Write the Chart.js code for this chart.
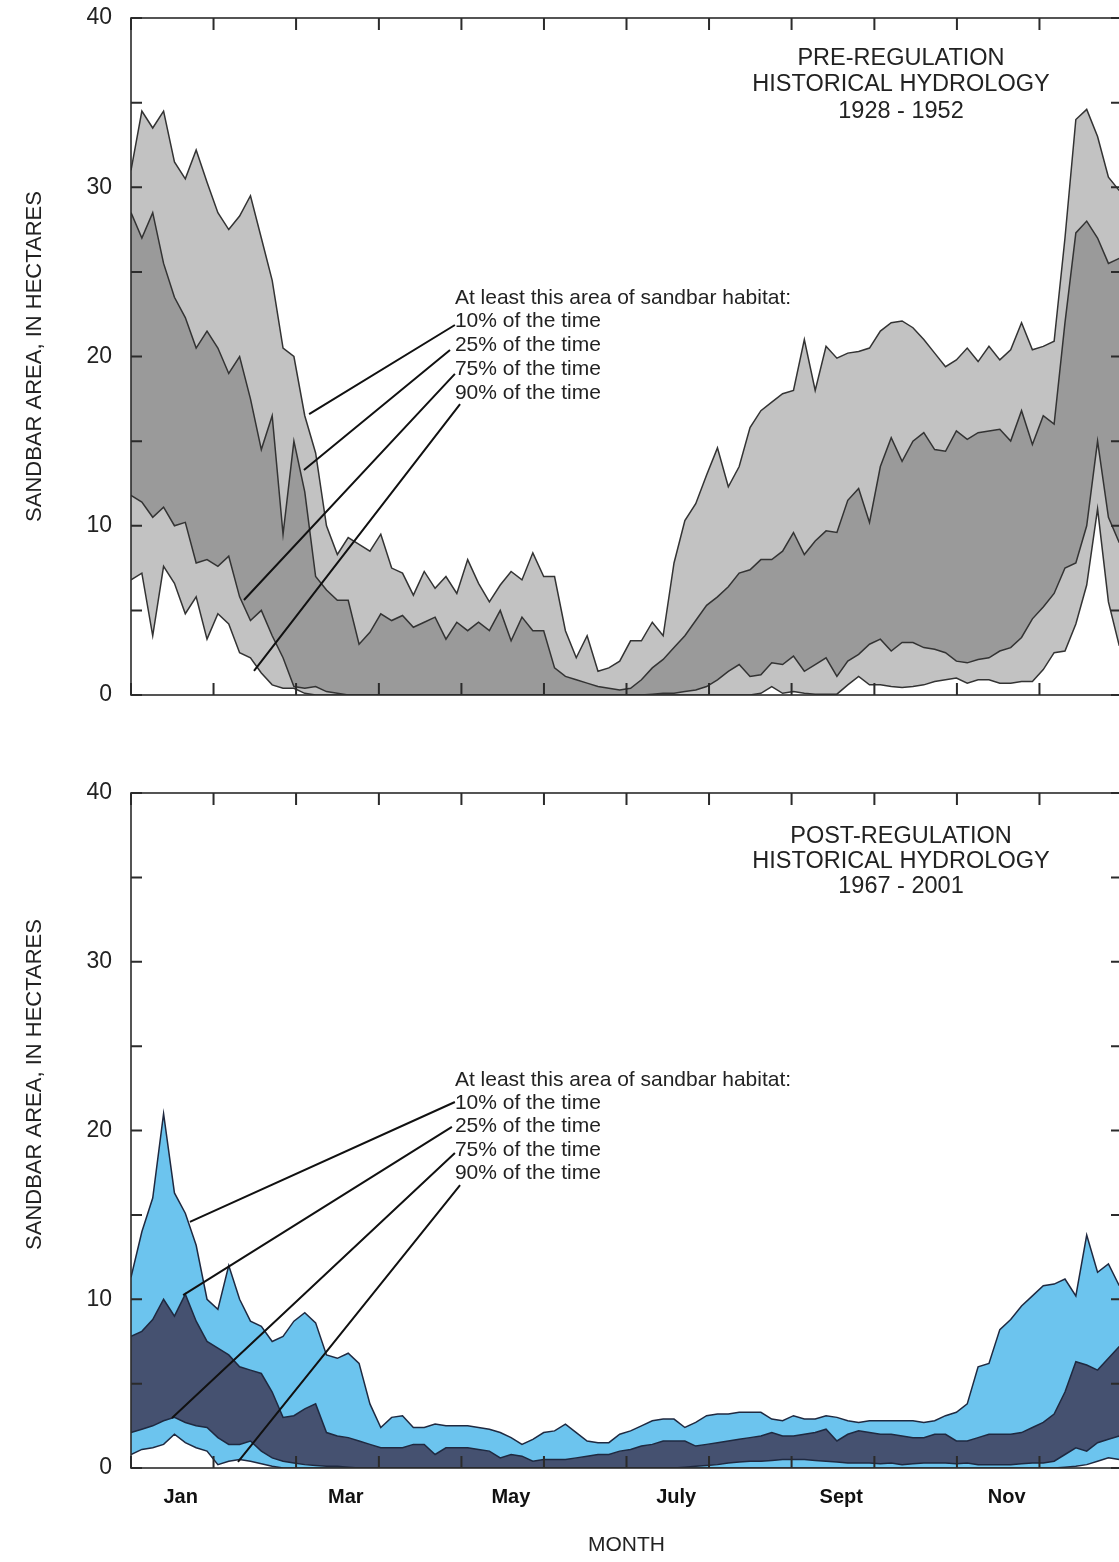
<!DOCTYPE html>
<html lang="en">
<head>
<meta charset="utf-8">
<title>Sandbar area</title>
<script src="https://cdn.jsdelivr.net/npm/chart.js@4.4.1/dist/chart.umd.min.js"></script>
<style>
    html, body { margin: 0; padding: 0; background: #fff; overflow: hidden; }
    canvas { position: absolute; left: 0; }
    #graficoAntes { top: 0; }
    #graficoDespues { top: 760px; }
</style>
</head>
<body>
<canvas id="graficoAntes" width="1140" height="740" style="width:1140px;height:740px"></canvas>
<canvas id="graficoDespues" width="1140" height="802" style="width:1140px;height:802px"></canvas>
<script>
// ===================================== Datos (dia del año, hectareas) ==================
const dias = [0,4,8,12,16,20,24,28,32,36,40,44,48,52,56,60,64,68,72,76,80,84,88,92,96,100,104,108,112,116,
    120,124,128,132,136,140,144,148,152,156,160,164,168,172,176,180,184,188,192,196,200,204,208,212,216,220,224,228,232,236,
    240,244,248,252,256,260,264,268,272,276,280,284,288,292,296,300,304,308,312,316,320,324,328,332,336,340,344,348,352,356,
    360,364];

// Pre-regulacion 1928 - 1952
const antes10 = [31.0,34.5,33.5,34.5,31.5,30.5,32.2,30.3,28.5,27.5, 28.3,29.5,27.0,24.5,20.5,20.0,16.5,14.3,10.0,8.3,
    9.3,8.9,8.5,9.5,7.5,7.2,5.9,7.3,6.3,7.0, 6.0,8.0,6.6,5.5,6.5,7.3,6.8,8.4,7.0,7.0,
    3.8,2.2,3.5,1.4,1.6,2.0,3.2,3.2,4.3,3.5, 7.8,10.3,11.3,13.0,14.6,12.3,13.5,15.8,16.8,17.3,
    17.8,18.0,21.0,18.0,20.6,19.9,20.2,20.3,20.5,21.5, 22.0,22.1,21.7,21.0,20.2,19.4,19.8,20.5,19.7,20.6,
    19.8,20.4,22.0,20.4,20.6,20.9,27.0,34.0,34.6,33.0, 30.6,29.8];
const antes25 = [28.5,27.0,28.5,25.5,23.5,22.3,20.5,21.5,20.5,19.0, 20.0,17.5,14.5,16.5,9.5,15.0,12.0,7.0,6.2,5.6,
    5.6,3.0,3.7,4.8,4.4,4.7,4.0,4.3,4.6,3.3, 4.3,3.8,4.3,3.8,5.0,3.2,4.6,3.8,3.8,1.6,
    1.1,0.9,0.7,0.5,0.4,0.3,0.4,0.9,1.6,2.1, 2.8,3.5,4.4,5.3,5.8,6.4,7.2,7.4,8.0,8.0,
    8.5,9.6,8.3,9.1,9.7,9.6,11.5,12.2,10.2,13.5, 15.2,13.8,15.0,15.5,14.5,14.4,15.6,15.1,15.5,15.6,
    15.7,15.0,16.8,14.8,16.5,16.0,22.0,27.3,28.0,27.0, 25.5,25.8];
const antes75 = [11.8,11.4,10.5,11.1,10.0,10.2,7.8,8.0,7.6,8.2, 5.8,4.4,5.0,3.5,2.2,0.5,0.4,0.5,0.2,0.1,
    0,0,0,0,0,0,0,0,0,0, 0,0,0,0,0,0,0,0,0,0,
    0,0,0,0,0,0,0,0,0.05,0.1, 0.1,0.2,0.3,0.5,0.9,1.4,1.8,1.1,1.2,1.9,
    1.8,2.3,1.4,1.8,2.2,1.1,2.0,2.4,3.0,3.3, 2.6,3.1,3.1,2.8,2.7,2.5,2.0,1.9,2.1,2.2,
    2.6,2.8,3.4,4.5,5.2,6.0,7.5,7.8,10.0,15.0, 10.5,9.0];
const antes90 = [6.8,7.2,3.5,7.6,6.6,4.8,5.8,3.3,4.8,4.2, 2.5,2.2,1.3,0.6,0.4,0.4,0.1,0,0,0,
    0,0,0,0,0,0,0,0,0,0, 0,0,0,0,0,0,0,0,0,0,
    0,0,0,0,0,0,0,0,0,0, 0,0,0,0,0,0,0,0,0.1,0.5,
    0.1,0.2,0.1,0.05,0.05,0.05,0.6,1.1,0.6,0.6, 0.5,0.45,0.5,0.6,0.8,0.9,1.0,0.7,0.9,0.9,
    0.7,0.7,0.8,0.8,1.5,2.5,2.6,4.2,6.5,11.0, 5.5,2.9];

// Post-regulacion 1967 - 2001
const despues10 = [11.3,14.0,16.0,21.0,16.3,15.1,13.2,10.0,9.4,12.0, 10.0,8.7,8.4,7.5,7.8,8.7,9.2,8.6,6.7,6.5,
    6.8,6.2,3.8,2.4,3.0,3.1,2.4,2.4,2.6,2.5, 2.5,2.5,2.4,2.3,2.1,1.8,1.4,1.7,2.1,2.2,
    2.6,2.1,1.6,1.5,1.5,2.0,2.2,2.5,2.8,2.9, 2.9,2.4,2.7,3.1,3.2,3.2,3.3,3.3,3.3,2.9,
    2.8,3.1,2.9,2.9,3.1,3.0,2.8,2.7,2.8,2.8, 2.8,2.8,2.8,2.7,2.8,3.1,3.3,3.8,6.0,6.2,
    8.2,8.8,9.6,10.2,10.8,10.9,11.2,10.2,13.8,11.6, 12.1,10.8];
const despues25 = [7.8,8.1,8.8,10.0,9.0,10.3,8.7,7.5,7.1,6.7, 6.0,5.8,5.6,4.5,3.0,3.1,3.5,3.8,2.1,1.9,
    1.8,1.6,1.4,1.2,1.2,1.2,1.4,1.4,0.8,1.2, 1.2,1.2,1.1,1.0,0.6,0.8,0.7,0.4,0.5,0.5,
    0.5,0.6,0.7,0.8,0.8,1.0,1.1,1.3,1.4,1.6, 1.6,1.6,1.3,1.4,1.5,1.6,1.7,1.8,1.9,2.1,
    1.9,1.9,2.0,2.1,2.3,1.6,2.0,2.2,2.1,2.0, 2.0,1.9,1.8,1.8,2.0,2.0,1.6,1.6,1.8,2.0,
    2.0,2.0,2.1,2.4,2.7,3.2,4.5,6.3,6.1,5.8, 6.5,7.2];
const despues75 = [2.1,2.3,2.5,2.8,3.0,2.7,2.5,2.4,1.8,1.4, 1.4,1.6,1.0,0.6,0.4,0.3,0.2,0.15,0.1,0.1,
    0.05,0,0,0,0,0,0,0,0,0, 0,0,0,0,0,0,0,0,0,0,
    0,0,0,0,0,0,0,0,0,0, 0,0.05,0.1,0.15,0.2,0.3,0.35,0.4,0.4,0.45,
    0.5,0.5,0.5,0.45,0.4,0.35,0.3,0.3,0.3,0.25, 0.3,0.2,0.25,0.3,0.3,0.3,0.25,0.3,0.2,0.2,
    0.2,0.2,0.25,0.3,0.3,0.4,0.8,1.2,1.0,1.5, 1.7,1.9];
const despues90 = [0.8,1.1,1.2,1.4,2.0,1.5,1.2,1.0,0.2,0.4, 0.5,0.4,0.25,0.1,0,0,0,0,0,0,
    0,0,0,0,0,0,0,0,0,0, 0,0,0,0,0,0,0,0,0,0,
    0,0,0,0,0,0,0,0,0,0, 0,0,0,0,0,0,0,0,0,0,
    0,0,0,0,0,0,0,0,0,0, 0,0,0,0,0,0,0,0,0,0,
    0,0,0,0,0,0,0.05,0.1,0.2,0.4, 0.6,0.5];

// Marcas de inicio de mes y etiquetas (en dias)
const iniciosMes = [0,30.4,60.8,91.3,121.7,152.1,182.5,212.9,243.3,273.8,304.2,334.6,365];
const etiquetasMes = ['Jan','Mar','May','July','Sept','Nov'];
const posEtiquetasMes = [18.3,79.1,139.9,200.8,261.6,322.5];
const marcasY = [0,5,10,15,20,25,30,35,40];

// Textos del grafico
const leyendaTitulo = 'At least this area of sandbar habitat:';
const leyendaLineas = ['10% of the time','25% of the time','75% of the time','90% of the time'];
const tituloAntes = ['PRE-REGULATION','HISTORICAL HYDROLOGY','1928 - 1952'];
const tituloDespues = ['POST-REGULATION','HISTORICAL HYDROLOGY','1967 - 2001'];

// Lineas guia: [dia texto, valor texto, dia curva, valor curva]
const guiasAntes = [[119.3,21.86,65.6,16.6],[117.5,20.38,63.7,13.29],[119.3,18.97,41.6,5.61],[121.2,17.19,45.3,1.42]];
const guiasDespues = [[119.3,21.69,21.7,14.58],[118.2,20.21,19.2,10.25],[119.3,18.67,15.1,2.96],[121.2,16.77,39.4,0.36]];

const FUENTE = '"Liberation Sans", Arial, Helvetica, sans-serif';


// ===================================== Marco y marcas hacia adentro ==================
const pluginMarco = {
    id: 'marco',
    afterDatasetsDraw(chart) {
        const { ctx, chartArea: a, scales: { x, y } } = chart;
        ctx.save();
        ctx.strokeStyle = '#2b2b2b';
        ctx.lineWidth = 1.6;
        ctx.strokeRect(a.left, a.top, a.right - a.left, a.bottom - a.top);
        ctx.lineWidth = 2;
        ctx.beginPath();
        iniciosMes.forEach(d => {
            const px = x.getPixelForValue(d);
            ctx.moveTo(px, a.bottom); ctx.lineTo(px, a.bottom - 12);
            ctx.moveTo(px, a.top); ctx.lineTo(px, a.top + 12);
        });
        marcasY.forEach(v => {
            const py = y.getPixelForValue(v);
            ctx.moveTo(a.left, py); ctx.lineTo(a.left + 11, py);
            ctx.moveTo(a.right, py); ctx.lineTo(a.right - 11, py);
        });
        ctx.stroke();
        ctx.restore();
    }
};

// ===================================== Titulos, leyenda y lineas guia ==================
const pluginTextos = {
    id: 'textos',
    afterDraw(chart, args, o) {
        const { ctx, chartArea: a, scales: { x, y } } = chart;
        ctx.save();
        ctx.fillStyle = '#222';
        ctx.textBaseline = 'middle';

        // titulo del panel
        ctx.font = '23.5px ' + FUENTE;
        ctx.textAlign = 'center';
        o.titulo.forEach((t, i) => {
            ctx.fillText(t, x.getPixelForValue(o.tituloDia), y.getPixelForValue(o.tituloValor - i * o.tituloPaso));
        });

        // leyenda
        ctx.font = '21px ' + FUENTE;
        ctx.textAlign = 'left';
        const xl = x.getPixelForValue(o.leyendaDia);
        ctx.fillText(leyendaTitulo, xl, y.getPixelForValue(o.leyendaValor));
        leyendaLineas.forEach((t, i) => {
            ctx.fillText(t, xl, y.getPixelForValue(o.leyendaValor - (i + 1) * o.leyendaPaso));
        });

        // lineas guia
        ctx.strokeStyle = '#111';
        ctx.lineWidth = 2;
        ctx.beginPath();
        o.guias.forEach(g => {
            ctx.moveTo(x.getPixelForValue(g[0]), y.getPixelForValue(g[1]));
            ctx.lineTo(x.getPixelForValue(g[2]), y.getPixelForValue(g[3]));
        });
        ctx.stroke();

        // titulo eje y
        ctx.font = '22px ' + FUENTE;
        ctx.textAlign = 'center';
        ctx.translate(35, (a.top + a.bottom) / 2 + o.desfaseEjeY);
        ctx.rotate(-Math.PI / 2);
        ctx.fillText('SANDBAR AREA, IN HECTARES', 0, 0);
        ctx.restore();
    }
};


// ===================================== Armado de cada panel ==================
function serie(valores, relleno, linea, orden) {
    return {
        data: dias.map((d, i) => ({ x: d, y: valores[i] })),
        backgroundColor: relleno,
        borderColor: linea,
        borderWidth: 1.5,
        pointRadius: 0,
        tension: 0,
        fill: 'origin',
        order: orden
    };
}

function crearGrafico(idCanvas, datos, colores, textos, abajo) {
    const ejeX = {
        type: 'linear',
        min: 0,
        max: 365,
        grid: { display: false, drawTicks: false },
        border: { display: false },
        afterFit: s => { s.height = abajo ? 94 : 45; s.paddingLeft = 0; s.paddingRight = 0; }
    };
    if (abajo) {
        ejeX.afterBuildTicks = s => { s.ticks = posEtiquetasMes.map(v => ({ value: v })); };
        ejeX.ticks = {
            autoSkip: false, maxRotation: 0, padding: 17, color: '#111',
            font: { family: FUENTE, size: 20, weight: 'bold' },
            callback: (v, i) => etiquetasMes[i]
        };
        ejeX.title = {
            display: true, text: 'MONTH', color: '#222',
            font: { family: FUENTE, size: 21 },
            padding: { top: 0, bottom: 4 }
        };
    } else {
        ejeX.ticks = { display: false };
    }

    return new Chart(document.getElementById(idCanvas), {
        type: 'line',
        data: {
            datasets: [
                serie(datos[0], colores.claro, colores.linea, 4),
                serie(datos[1], colores.oscuro, colores.linea, 3),
                serie(datos[2], colores.claro, colores.linea, 2),
                serie(datos[3], '#ffffff', colores.linea, 1)
            ]
        },
        options: {
            responsive: false,
            animation: false,
            events: [],
            layout: { padding: { top: abajo ? 33 : 18, right: 18, bottom: 0, left: 0 } },
            scales: {
                x: ejeX,
                y: {
                    min: 0,
                    max: 40,
                    grid: { display: false, drawTicks: false },
                    border: { display: false },
                    ticks: { stepSize: 10, padding: 19, color: '#222', font: { family: FUENTE, size: 23 } },
                    afterFit: s => { s.width = 131; s.paddingTop = 0; s.paddingBottom = 0; }
                }
            },
            plugins: {
                legend: { display: false },
                tooltip: { enabled: false },
                textos: textos
            }
        },
        plugins: [pluginMarco, pluginTextos]
    });
}

crearGrafico('graficoAntes', [antes10, antes25, antes75, antes90],
    { claro: '#c2c2c2', oscuro: '#9a9a9a', linea: '#333333' },
    {
        titulo: tituloAntes, tituloDia: 283.6, tituloValor: 37.6, tituloPaso: 1.55,
        leyendaDia: 119.3, leyendaValor: 23.46, leyendaPaso: 1.4,
        guias: guiasAntes, desfaseEjeY: 0
    }, false);

crearGrafico('graficoDespues', [despues10, despues25, despues75, despues90],
    { claro: '#6cc4ee', oscuro: '#455170', linea: '#1f2940' },
    {
        titulo: tituloDespues, tituloDia: 283.6, tituloValor: 37.45, tituloPaso: 1.51,
        leyendaDia: 119.3, leyendaValor: 23.0, leyendaPaso: 1.38,
        guias: guiasDespues, desfaseEjeY: -46
    }, true);
</script>
</body>
</html>
